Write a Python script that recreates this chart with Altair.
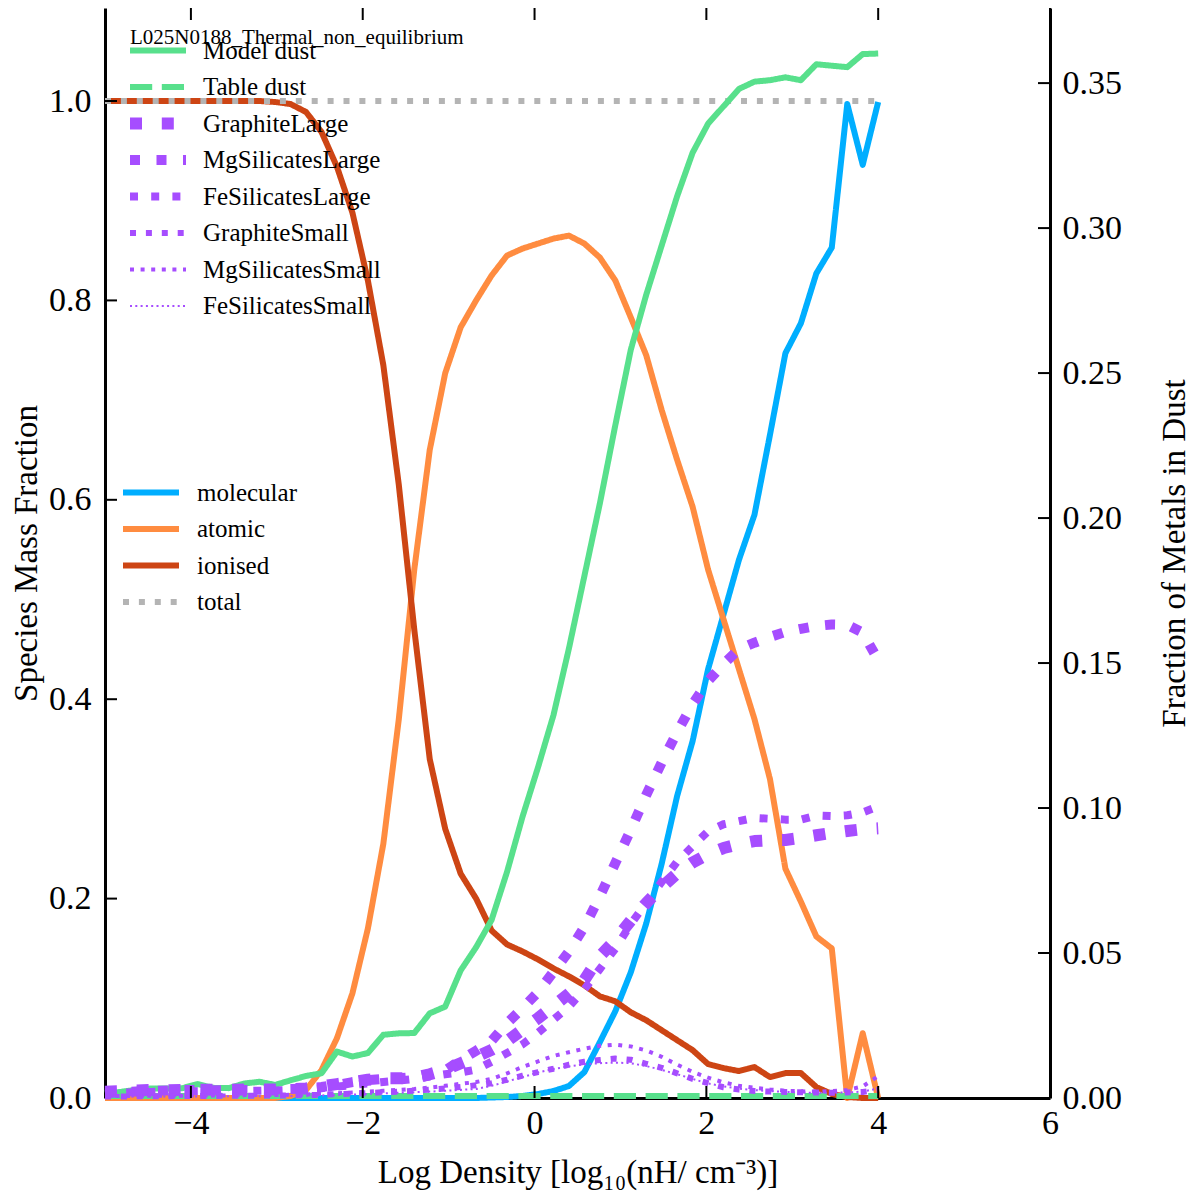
import altair as alt
import pandas as pd

FONT = "Liberation Serif"

# ---------------- data ----------------
log_density = [-5.0, -4.82, -4.64, -4.46, -4.28, -4.1, -3.92, -3.74, -3.56, -3.38,
               -3.2, -3.02, -2.84, -2.66, -2.48, -2.3, -2.12, -1.94, -1.76, -1.58,
               -1.4, -1.22, -1.04, -0.86, -0.68, -0.5, -0.32, -0.14, 0.04, 0.22,
               0.4, 0.58, 0.76, 0.94, 1.12, 1.3, 1.48, 1.66, 1.84, 2.02,
               2.2, 2.38, 2.56, 2.74, 2.92, 3.1, 3.28, 3.46, 3.64, 3.82, 4.0]

molecular = [0, 0, 0, 0, 0, 0, 0, 0, 0, 0,
             0, 0, 0, 0, 0, 0, 0, 0, 0, 0,
             0, 0, 0, 0, 0, 0.0005, 0.001, 0.002, 0.004, 0.007,
             0.012, 0.026, 0.056, 0.087, 0.126, 0.175, 0.235, 0.303, 0.358, 0.43,
             0.485, 0.54, 0.585, 0.665, 0.747, 0.777, 0.827, 0.853, 0.997, 0.936, 0.999]

atomic = [0, 0, 0, 0, 0, 0, 0, 0, 0, 0,
          0, 0, 0.002, 0.008, 0.028, 0.06, 0.105, 0.17, 0.255, 0.38,
          0.53, 0.65, 0.727, 0.773, 0.80, 0.825, 0.845, 0.852, 0.857, 0.862,
          0.865, 0.857, 0.843, 0.82, 0.783, 0.745, 0.69, 0.64, 0.593, 0.53,
          0.48, 0.43, 0.38, 0.32, 0.23, 0.197, 0.162, 0.15, 0.0, 0.065, 0.0]

ionised = [1.0, 1.0, 1.0, 1.0, 1.0, 1.0, 1.0, 1.0, 1.0, 1.0,
           1.0, 0.999, 0.997, 0.989, 0.969, 0.934, 0.888, 0.82, 0.735, 0.615,
           0.47, 0.34, 0.27, 0.225, 0.2, 0.168, 0.154, 0.147, 0.139, 0.13,
           0.122, 0.113, 0.102, 0.097, 0.086, 0.078, 0.068, 0.058, 0.048, 0.034,
           0.03, 0.027, 0.031, 0.021, 0.025, 0.025, 0.011, 0.004, 0.001, 0.0, 0.0]

total = [1.0] * 51

model_dust = [0.0016, 0.0021, 0.0028, 0.0033, 0.0033, 0.0034, 0.0048, 0.0035, 0.0034, 0.0050,
              0.0056, 0.0045, 0.0061, 0.0076, 0.0085, 0.0160, 0.0143, 0.0155, 0.0218, 0.0223,
              0.0224, 0.0292, 0.0315, 0.0440, 0.0520, 0.0614, 0.0780, 0.0970, 0.1140, 0.1320,
              0.1550, 0.1800, 0.2050, 0.2320, 0.2580, 0.2770, 0.2940, 0.3110, 0.3260, 0.3360,
              0.3420, 0.3480, 0.3505, 0.3510, 0.3520, 0.3510, 0.3565, 0.3560, 0.3555, 0.3600, 0.3602]

table_dust = [0.0007] * 51

graphite_large = [0.0022, 0.0024, 0.0026, 0.0028, 0.0027, 0.0028, 0.0029, 0.0028, 0.0028, 0.0029,
                  0.0030, 0.0029, 0.0030, 0.0033, 0.0040, 0.0048, 0.0055, 0.0063, 0.0068, 0.0068,
                  0.0069, 0.0082, 0.0097, 0.0120, 0.0142, 0.0166, 0.0196, 0.0236, 0.0275, 0.0317,
                  0.0360, 0.0407, 0.0489, 0.0545, 0.0612, 0.0672, 0.0727, 0.0775, 0.0812, 0.0841,
                  0.0862, 0.0876, 0.0886, 0.0889, 0.0890, 0.0897, 0.0906, 0.0914, 0.0921, 0.0927, 0.0930]

mgsil_large = [0.0018, 0.0020, 0.0022, 0.0024, 0.0026, 0.0028, 0.0028, 0.0027, 0.0027, 0.0028,
               0.0028, 0.0030, 0.0031, 0.0033, 0.0038, 0.0045, 0.0055, 0.0062, 0.0066, 0.0068,
               0.0072, 0.0082, 0.0095, 0.0130, 0.0163, 0.0197, 0.0258, 0.0310, 0.0365, 0.0435,
               0.0505, 0.0590, 0.0695, 0.0810, 0.0925, 0.1045, 0.1157, 0.1262, 0.1358, 0.1438,
               0.1497, 0.1548, 0.1570, 0.1590, 0.1607, 0.1618, 0.1628, 0.1633, 0.1632, 0.1605, 0.1510]

fesil_large = [0.0016, 0.0018, 0.0020, 0.0021, 0.0022, 0.0022, 0.0023, 0.0023, 0.0024, 0.0024,
               0.0025, 0.0026, 0.0028, 0.0030, 0.0034, 0.0039, 0.0045, 0.0050, 0.0055, 0.0060,
               0.0066, 0.0074, 0.0082, 0.0088, 0.0098, 0.0125, 0.0155, 0.0185, 0.0225, 0.0270,
               0.0315, 0.0375, 0.0445, 0.0515, 0.0600, 0.0673, 0.0745, 0.0815, 0.0868, 0.0920,
               0.0944, 0.0955, 0.0966, 0.0963, 0.0960, 0.0960, 0.0974, 0.0972, 0.0975, 0.0985, 0.1005]

graphite_small = [0.0005, 0.0005, 0.0006, 0.0006, 0.0006, 0.0007, 0.0007, 0.0007, 0.0008, 0.0008,
                  0.0008, 0.0009, 0.0009, 0.0010, 0.0011, 0.0013, 0.0015, 0.0017, 0.0020, 0.0022,
                  0.0025, 0.0029, 0.0033, 0.0038, 0.0044, 0.0051, 0.0063, 0.0077, 0.0089, 0.0101,
                  0.0115, 0.0125, 0.0131, 0.0136, 0.0132, 0.0118, 0.0104, 0.0085, 0.0066, 0.0051,
                  0.0037, 0.0029, 0.0024, 0.0022, 0.0021, 0.0020, 0.0019, 0.0018, 0.0019, 0.0021, 0.0028]

mgsil_small = [0.0006, 0.0007, 0.0007, 0.0008, 0.0008, 0.0008, 0.0009, 0.0009, 0.0009, 0.0010,
               0.0010, 0.0010, 0.0011, 0.0012, 0.0014, 0.0016, 0.0019, 0.0022, 0.0025, 0.0028,
               0.0031, 0.0036, 0.0042, 0.0049, 0.0055, 0.0066, 0.0085, 0.0107, 0.0126, 0.0145,
               0.0158, 0.0170, 0.0180, 0.0184, 0.0178, 0.0164, 0.0142, 0.0115, 0.0090, 0.0070,
               0.0054, 0.0042, 0.0035, 0.0029, 0.0025, 0.0023, 0.0022, 0.0024, 0.0028, 0.0040, 0.0075]

fesil_small = [0.0004, 0.0004, 0.0004, 0.0005, 0.0005, 0.0005, 0.0005, 0.0006, 0.0006, 0.0006,
               0.0006, 0.0007, 0.0007, 0.0008, 0.0009, 0.0010, 0.0012, 0.0014, 0.0016, 0.0018,
               0.0020, 0.0022, 0.0025, 0.0028, 0.0031, 0.0042, 0.0057, 0.0072, 0.0088, 0.0100,
               0.0109, 0.0116, 0.0120, 0.0122, 0.0120, 0.0110, 0.0097, 0.0082, 0.0066, 0.0050,
               0.0040, 0.0032, 0.0027, 0.0024, 0.0021, 0.0019, 0.0018, 0.0018, 0.0019, 0.0022, 0.0033]

x_ticks = [-4, -2, 0, 2, 4, 6]
left_ticks = [0.0, 0.2, 0.4, 0.6, 0.8, 1.0]
right_ticks = [0.0, 0.05, 0.10, 0.15, 0.20, 0.25, 0.30, 0.35]

species_names = ["molecular", "atomic", "ionised", "total"]
species_colors = ["#00aeff", "#ff8c40", "#cd4514", "#b4b4b4"]
species_dash = [[1, 0], [1, 0], [1, 0], [6, 9.9]]
species_width = [6, 6, 6, 6]

dust_names = ["Model dust", "Table dust", "GraphiteLarge", "MgSilicatesLarge",
              "FeSilicatesLarge", "GraphiteSmall", "MgSilicatesSmall", "FeSilicatesSmall"]
dust_colors = ["#58e08c", "#58e08c", "#a64dff", "#a64dff", "#a64dff", "#a64dff", "#a64dff", "#a64dff"]
dust_dash = [[1, 0], [22.2, 9.6], [12, 19.8], [10, 16.5], [8, 13.2], [6, 9.9], [4, 6.6], [2, 3.3]]
dust_width = [6, 6, 12, 10, 8, 6, 4, 2]

legend_title = "L025N0188_Thermal_non_equilibrium"

# ---------------- layout ----------------
W, H = 945, 1090
X_DOMAIN = [-5, 6]
LEFT_DOMAIN = [0, 1.0933]
RIGHT_DOMAIN = [0, 0.3759]
TICK_FS = 34
TITLE_FS = 33
HANDLE_LEN = 56      # legend sample line length (px)
HANDLE_X0 = -12.5    # sample line start relative to the symbol centre


def handle_path(width, dash):
    """Legend glyph: the dash pattern of a line drawn as filled rectangles."""
    on, off = dash
    segs = []
    if off == 0:
        segs.append((0.0, HANDLE_LEN))
    else:
        s = 0.0
        while s < HANDLE_LEN:
            segs.append((s, min(s + on, HANDLE_LEN)))
            s += on + off
    h = width / 2
    return "".join(
        f"M{HANDLE_X0 + a:.2f},{-h:.2f}H{HANDLE_X0 + b:.2f}V{h:.2f}H{HANDLE_X0 + a:.2f}Z"
        for a, b in segs
    )


def long_table(names, series, colors, dashes, widths):
    rows = []
    for name, values, c, d, w in zip(names, series, colors, dashes, widths):
        for x, v in zip(log_density, values):
            rows.append({"log_density": x, "value": v, "series": name,
                         "color": c, "dash": d, "width": w})
    return pd.DataFrame(rows)


species_df = long_table(species_names, [molecular, atomic, ionised, total],
                        species_colors, species_dash, species_width)
dust_df = long_table(dust_names,
                     [model_dust, table_dust, graphite_large, mgsil_large, fesil_large,
                      graphite_small, mgsil_small, fesil_small],
                     dust_colors, dust_dash, dust_width)

x_axis = alt.Axis(values=x_ticks, format="d", ticks=False, grid=False,
                  domainColor="black", domainWidth=3, labelFont=FONT, labelFontSize=TICK_FS,
                  labelColor="black", labelPadding=8, labelFlush=False,
                  title="Log Density [log₁₀(nH/ cm⁻³)]", titleFont=FONT, titleFontSize=TITLE_FS,
                  titleFontWeight="normal", titleColor="black", titlePadding=16)
left_axis = alt.Axis(values=left_ticks, format=".1f", ticks=False, grid=False, orient="left",
                     domainColor="black", domainWidth=3, labelFont=FONT, labelFontSize=TICK_FS,
                     labelColor="black", labelPadding=14, labelFlush=False,
                     title="Species Mass Fraction", titleFont=FONT, titleFontSize=TITLE_FS,
                     titleFontWeight="normal", titleColor="black", titlePadding=5)
right_axis = alt.Axis(values=right_ticks, format=".2f", ticks=False, grid=False, orient="right",
                      domainColor="black", domainWidth=3, labelFont=FONT, labelFontSize=TICK_FS,
                      labelColor="black", labelPadding=12, labelFlush=False,
                      title="Fraction of Metals in Dust", titleFont=FONT, titleFontSize=TITLE_FS,
                      titleFontWeight="normal", titleColor="black", titlePadding=70, titleAngle=270)

x_scale = alt.Scale(domain=X_DOMAIN, nice=False, zero=False)
left_scale = alt.Scale(domain=LEFT_DOMAIN, nice=False)
right_scale = alt.Scale(domain=RIGHT_DOMAIN, nice=False)


def xenc(field):
    return alt.X(f"{field}:Q", scale=x_scale, axis=x_axis)


def line_legend(x, y, offset, **extra):
    return alt.Legend(orient="none", legendX=x, legendY=y,
                      titleFont=FONT, titleFontSize=21, titleFontWeight="normal",
                      titleColor="black", titleLimit=600,
                      symbolSize=4, symbolStrokeWidth=0, symbolOpacity=1,
                      labelFont=FONT, labelFontSize=25, labelColor="black",
                      labelOffset=offset, rowPadding=10.5, padding=0, labelLimit=400,
                      **extra)


def legend_key_layer(names, colors, dashes, widths, legend):
    """Empty point layer that only carries the legend (colour + glyph per series)."""
    empty = pd.DataFrame({"series": pd.Series([], dtype=str)})
    glyphs = [handle_path(w, d) for w, d in zip(widths, dashes)]
    return alt.Chart(empty).mark_point(filled=True, opacity=1).encode(
        color=alt.Color("series:N", scale=alt.Scale(domain=names, range=colors), legend=legend),
        shape=alt.Shape("series:N", scale=alt.Scale(domain=names, range=glyphs), legend=legend),
    )


species_legend = line_legend(18, 472, 49, title=None)
dust_legend = line_legend(25, 19, 48, title=legend_title, titlePadding=-10)

species_lines = alt.Chart(species_df).mark_line(strokeCap="butt", strokeJoin="round").encode(
    x=xenc("log_density"),
    y=alt.Y("value:Q", scale=left_scale, axis=left_axis),
    color=alt.Color("color:N", scale=None),
    strokeDash=alt.StrokeDash("dash", scale=None),
    strokeWidth=alt.StrokeWidth("width:Q", scale=None),
    detail="series:N",
)

left_tick_df = pd.DataFrame({"value": left_ticks})
left_tick_rules = alt.Chart(left_tick_df).mark_rule(color="black", strokeWidth=2).encode(
    y=alt.Y("value:Q", scale=left_scale, axis=left_axis),
    x=alt.value(0), x2=alt.value(12),
)

dust_lines = alt.Chart(dust_df).mark_line(strokeCap="butt", strokeJoin="round").encode(
    x=xenc("log_density"),
    y=alt.Y("value:Q", scale=right_scale, axis=right_axis),
    color=alt.Color("color:N", scale=None),
    strokeDash=alt.StrokeDash("dash", scale=None),
    strokeWidth=alt.StrokeWidth("width:Q", scale=None),
    detail="series:N",
)

right_tick_df = pd.DataFrame({"value": right_ticks})
right_tick_rules = alt.Chart(right_tick_df).mark_rule(color="black", strokeWidth=2).encode(
    y=alt.Y("value:Q", scale=right_scale, axis=right_axis),
    x=alt.value(W - 12), x2=alt.value(W),
)

x_tick_df = pd.DataFrame({"tick": x_ticks})
bottom_ticks = alt.Chart(x_tick_df).mark_rule(color="black", strokeWidth=2).encode(
    x=xenc("tick"), y=alt.value(H - 12), y2=alt.value(H),
)
top_ticks = alt.Chart(x_tick_df).mark_rule(color="black", strokeWidth=2).encode(
    x=xenc("tick"), y=alt.value(0), y2=alt.value(12),
)

species_key = legend_key_layer(species_names, species_colors, species_dash, species_width, species_legend)
dust_key = legend_key_layer(dust_names, dust_colors, dust_dash, dust_width, dust_legend)

left_layer = alt.layer(species_lines, left_tick_rules, species_key)
right_layer = alt.layer(dust_lines, right_tick_rules, dust_key)

chart = alt.layer(left_layer, right_layer, bottom_ticks, top_ticks).resolve_scale(
    y="independent", color="independent", shape="independent"
).properties(
    width=W, height=H,
    autosize=alt.AutoSizeParams(type="none"),
    padding={"left": 97, "top": 0, "right": 142, "bottom": 94},
    background="white",
).configure_view(stroke=None)

chart.save("out.html", embed_options={"renderer": "svg", "actions": False})
